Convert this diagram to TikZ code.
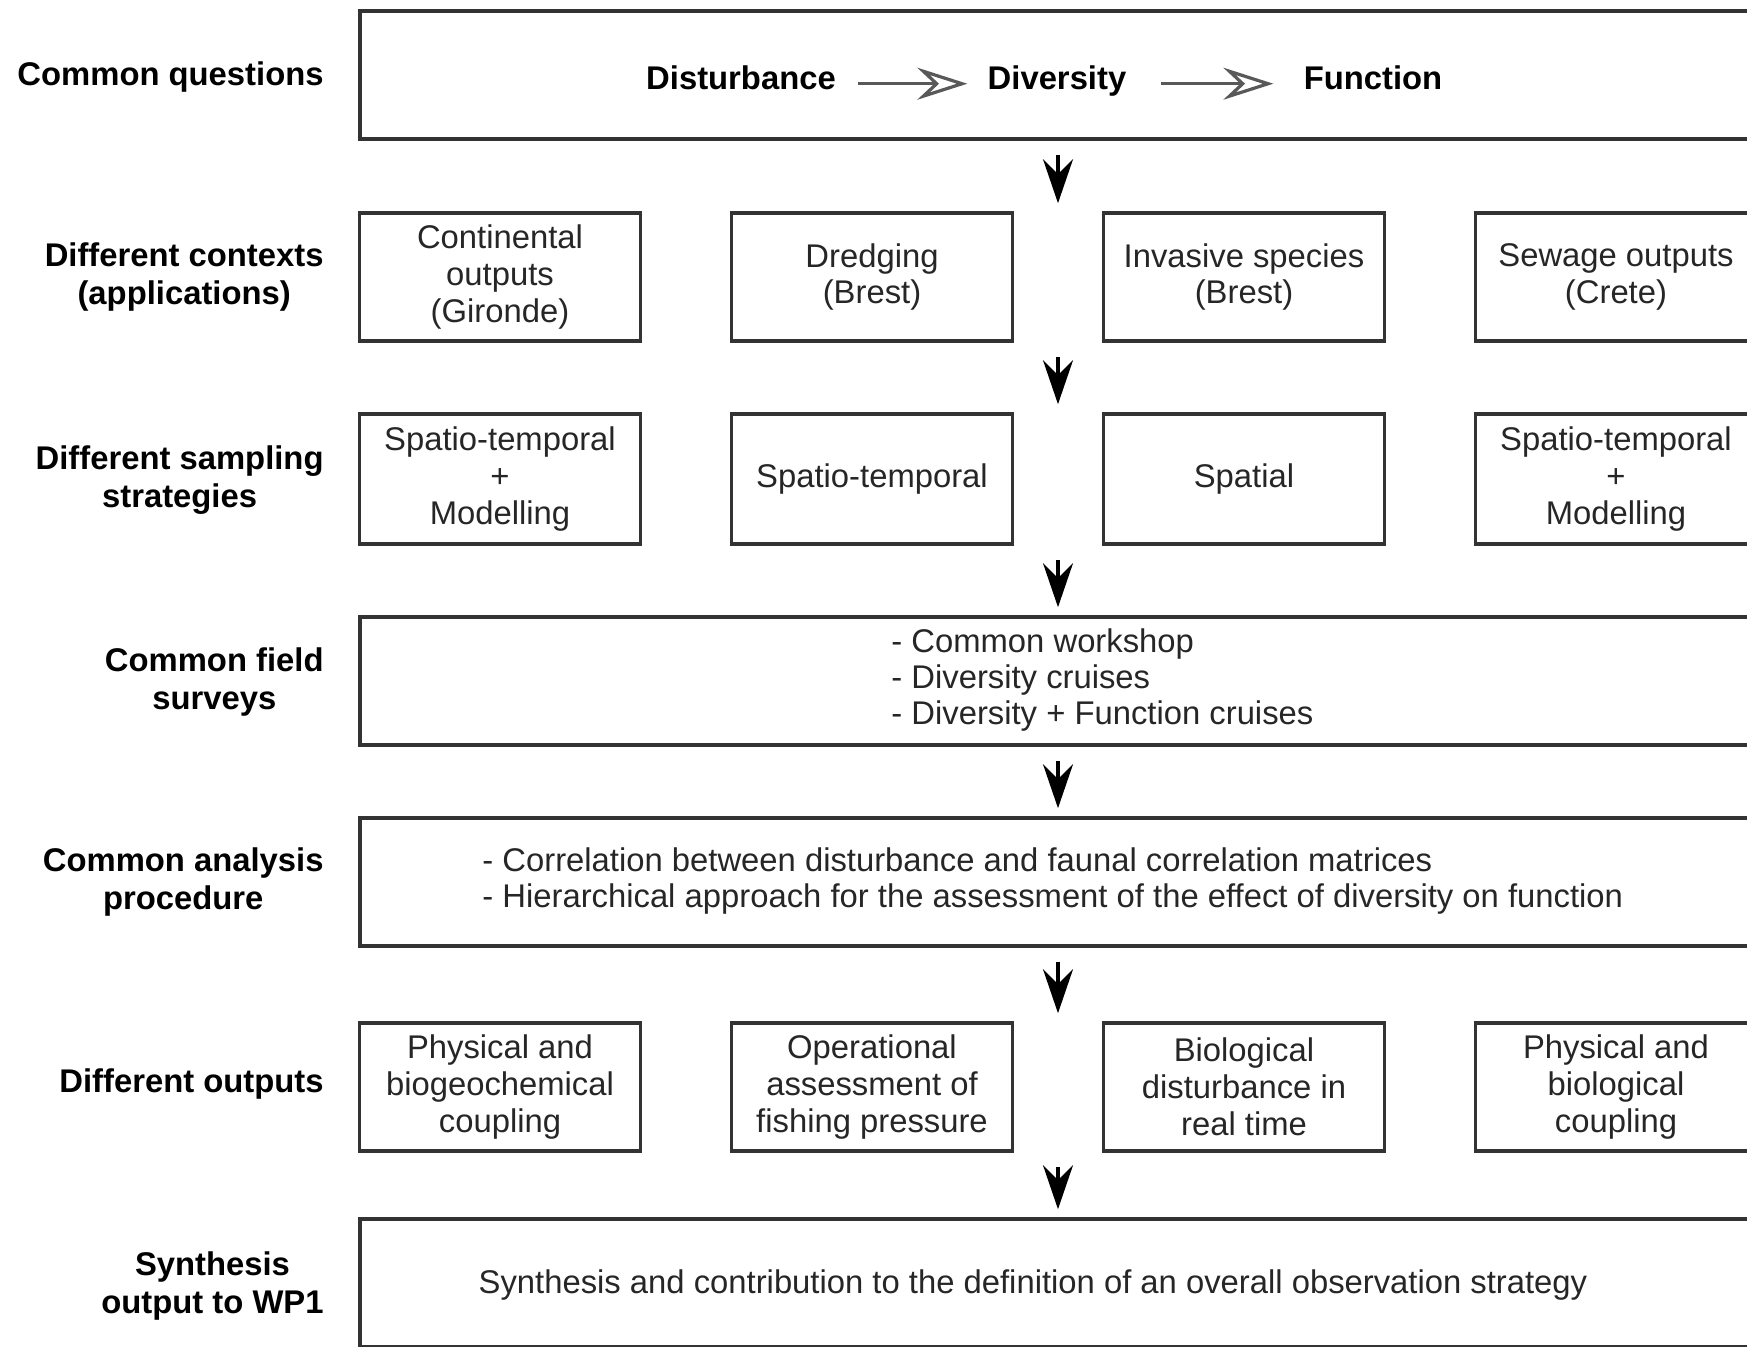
\documentclass[tikz,border=0pt]{standalone}
\usepackage{fontspec}
\setmainfont{Liberation Sans}
\usetikzlibrary{arrows.meta}
\begin{document}
\begin{tikzpicture}[x=0.5pt,y=-0.5pt,
  box/.style={draw=black!80, line width=1.8pt, minimum width=140.5pt, minimum height=64pt,
    inner sep=0pt, align=center, font=\fontsize{16.4}{18.4}\selectfont, text=black!85},
  wide/.style={box, minimum width=720pt},
  body/.style={inner sep=0pt, font=\fontsize{16.4}{18.2}\selectfont, text=black!85},
  qtext/.style={inner sep=0pt, anchor=base, font=\fontsize{16.4}{18.4}\selectfont\bfseries},
  lbl/.style={anchor=east, align=center, inner sep=0pt, font=\fontsize{16.4}{18.8}\selectfont\bfseries},
  down/.style={-{Stealth[length=22pt,width=15pt,inset=7.5pt]}, line width=1.6pt,
    shorten <=7pt, shorten >=4pt},
  flow/.style={-{Stealth[open,length=25pt,width=16pt,inset=8.5pt]}, line width=1.6pt, draw=black!65},
]
\path[use as bounding box] (0,0) rectangle (1747,1346);
\fill[white] (0,0) rectangle (1747,1346);
\clip (0,0) rectangle (1747,1346);

% vertical axis of the flow arrows
\coordinate (ax) at (1058,0);

% row labels
\node[lbl] (l1) at (324,77)   {Common questions};
\node[lbl] (l2) at (324,277)  {Different contexts\\(applications)};
\node[lbl] (l3) at (324,480)  {Different sampling\\strategies};
\node[lbl] (l4) at (324,682)  {Common field\\surveys};
\node[lbl] (l5) at (324,882)  {Common analysis\\procedure};
\node[lbl] (l6) at (324,1084) {Different outputs};
\node[lbl] (l7) at (324,1286) {Synthesis\\output to WP1};

% common questions
\node[wide] (q) at (1080,75) {};
\node[qtext] (dist) at (741,89)  {Disturbance};
\node[qtext] (div)  at (1057,89) {Diversity};
\node[qtext] (func) at (1373,89) {Function};
\draw[flow] ([xshift=11pt]dist.mid east) -- ([xshift=-10pt]div.mid west);
\draw[flow] ([xshift=17pt]div.mid east) -- ([xshift=-15pt]func.mid west);

% contexts
\node[box] (c1) at (500,277)  {Continental\\outputs\\(Gironde)};
\node[box] (c2) at (872,277)  {Dredging\\(Brest)};
\node[box] (c3) at (1244,277) {Invasive species\\(Brest)};
\node[box] (c4) at (1616,277) {Sewage outputs\\(Crete)};

% sampling strategies
\node[box, minimum height=65pt] (s1) at (500,479)  {Spatio-temporal\\+\\Modelling};
\node[box, minimum height=65pt] (s2) at (872,479)  {Spatio-temporal};
\node[box, minimum height=65pt] (s3) at (1244,479) {Spatial};
\node[box, minimum height=65pt] (s4) at (1616,479) {Spatio-temporal\\+\\Modelling};

% field surveys
\node[wide] (f) at (1080,681) {};
\node[body, anchor=west, align=left] (ft) at (891,680)
  {- Common workshop\\- Diversity cruises\\- Diversity + Function cruises};

% analysis
\node[wide] (a) at (1080,882) {};
\node[body, anchor=west, align=left] (at) at (482,881)
  {- Correlation between disturbance and faunal correlation matrices\\
   - Hierarchical approach for the assessment of the effect of diversity on function};

% outputs
\node[box] (o1) at (500,1087)  {Physical and\\biogeochemical\\coupling};
\node[box] (o2) at (872,1087)  {Operational\\assessment of\\fishing pressure};
\node[box] (o3) at (1244,1087) {Biological\\disturbance in\\real time};
\node[box] (o4) at (1616,1087) {Physical and\\biological\\coupling};

% synthesis
\node[wide] (sy) at (1080,1283) {};
\node[body] (syt) at (1033,1285)
  {Synthesis and contribution to the definition of an overall observation strategy};

% flow between the rows
\draw[down] (q.south -| ax)  -- (c2.north -| ax);
\draw[down] (c2.south -| ax) -- (s2.north -| ax);
\draw[down] (s2.south -| ax) -- (f.north -| ax);
\draw[down] (f.south -| ax)  -- (a.north -| ax);
\draw[down] (a.south -| ax)  -- (o2.north -| ax);
\draw[down] (o2.south -| ax) -- (sy.north -| ax);
\end{tikzpicture}
\end{document}
